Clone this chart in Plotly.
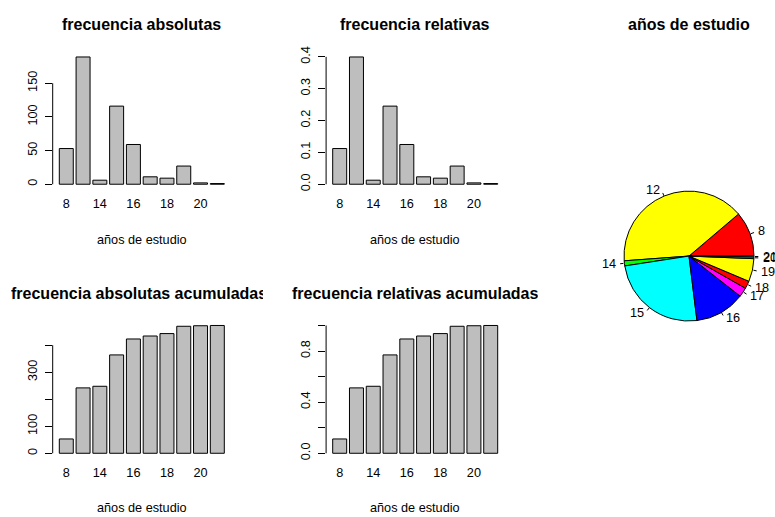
import math
import numpy as np
import plotly.graph_objects as go

# Años de estudio y sus frecuencias
anios = ["8", "12", "14", "15", "16", "17", "18", "19", "20", "21"]
frec_abs = [53, 189, 6, 116, 59, 11, 9, 27, 2, 1]
total = sum(frec_abs)
frec_rel = [f / total for f in frec_abs]
frec_abs_acum = np.cumsum(frec_abs).tolist()
frec_rel_acum = np.cumsum(frec_rel).tolist()

# Etiquetas visibles del eje x (R omite las que se solapan)
etiquetas_x = ["8", "14", "16", "18", "20"]

# rainbow(6) reciclado para el gráfico de torta
colores_torta = ["#FF0000", "#FFFF00", "#00FF00", "#00FFFF", "#0000FF", "#FF00FF",
                 "#FF0000", "#FFFF00", "#00FF00", "#00FFFF"]

W, H = 775, 517
FUENTE = "Liberation Sans, Arial, Helvetica, sans-serif"
T_TITULO, T_TEXTO = 16, 12.7


def px(x):
    return x / W


def py(y):
    return 1 - y / H


paneles = [
    dict(datos=frec_abs, titulo="frecuencia absolutas", xr=(52.7, 230.9), yr=(46.6, 186.2),
         tv=[0, 50, 100, 150], tt=["0", "50", "100", "150"], clip=None),
    dict(datos=frec_rel, titulo="frecuencia relativas", xr=(326.1, 504.3), yr=(46.6, 186.2),
         tv=[0, 0.1, 0.2, 0.3, 0.4], tt=["0.0", "0.1", "0.2", "0.3", "0.4"], clip=None),
    dict(datos=frec_abs_acum, titulo="frecuencia absolutas acumuladas", xr=(52.7, 230.9), yr=(319.3, 459.5),
         tv=[0, 100, 200, 300, 400], tt=["0", "100", "", "300", ""], clip=(10, 262)),
    dict(datos=frec_rel_acum, titulo="frecuencia relativas acumuladas", xr=(326.1, 504.3), yr=(319.3, 459.5),
         tv=[0, 0.2, 0.4, 0.6, 0.8, 1.0], tt=["0.0", "", "0.4", "", "0.8", ""], clip=(291, 537)),
]

fig = go.Figure()
anotaciones = []
formas = []

for i, p in enumerate(paneles, start=1):
    sx = "" if i == 1 else str(i)
    xa, ya = "x" + sx, "y" + sx
    fig.add_trace(go.Bar(
        x=anios, y=p["datos"], xaxis=xa, yaxis=ya,
        marker=dict(color="#BEBEBE", line=dict(color="black", width=1)),
        showlegend=False, hoverinfo="x+y",
    ))
    ymax = max(p["datos"])
    fig.layout["xaxis" + sx] = dict(
        domain=[px(p["xr"][0]), px(p["xr"][1])], anchor=ya, type="category",
        range=[-0.81, 9.81], tickmode="array", tickvals=etiquetas_x, ticktext=etiquetas_x,
        showgrid=False, zeroline=False, showline=False, ticks="",
        tickfont=dict(size=T_TEXTO, color="black", family=FUENTE), ticklabelstandoff=5,
    )
    fig.layout["yaxis" + sx] = dict(
        domain=[py(p["yr"][1]), py(p["yr"][0])], anchor=xa,
        range=[-0.04 * ymax, 1.04 * ymax], tickmode="array", tickvals=p["tv"], ticktext=p["tt"],
        showgrid=False, zeroline=False, showline=False, ticks="outside", ticklen=7,
        tickcolor="black", tickwidth=1, tickangle=-90,
        tickfont=dict(size=T_TEXTO, color="black", family=FUENTE), ticklabelstandoff=3,
    )
    # línea del eje y, del primer al último tick
    formas.append(dict(type="line", xref=xa + " domain", yref=ya, x0=0, x1=0,
                       y0=p["tv"][0], y1=p["tv"][-1], line=dict(color="black", width=1)))
    cx = (p["xr"][0] + p["xr"][1]) / 2
    ty = 19 if p["yr"][0] < 200 else 292
    titulo = dict(text="<b>" + p["titulo"] + "</b>", x=px(cx), y=py(ty),
                  xref="paper", yref="paper", xanchor="center", yanchor="middle",
                  showarrow=False, font=dict(size=T_TITULO, color="black", family=FUENTE))
    if p["clip"] is not None:
        # el título se recorta en el borde derecho de su celda
        izq, der = p["clip"]
        titulo.update(x=px(izq), xanchor="left", width=der - izq, align="left", borderpad=0)
    anotaciones.append(titulo)
    xt_y = 238 if p["yr"][0] < 200 else 510
    anotaciones.append(dict(text="años de estudio", x=px(cx), y=py(xt_y), xref="paper", yref="paper",
                            xanchor="center", yanchor="middle", showarrow=False,
                            font=dict(size=T_TEXTO, color="black", family=FUENTE)))

# Gráfico de torta: empieza a las 3 en punto y gira en sentido antihorario
pcx, pcy, pr = 689.0, 254.0, 66.0
fig.add_trace(go.Pie(
    labels=anios, values=frec_abs, sort=False, direction="counterclockwise",
    rotation=90 - 360 * frec_abs[0] / total,
    marker=dict(colors=colores_torta, line=dict(color="black", width=1)),
    textinfo="none", showlegend=False, hoverinfo="label+value",
    domain=dict(x=[px(pcx - pr), px(pcx + pr)], y=[py(pcy + pr), py(pcy - pr)]),
))

anotaciones.append(dict(text="<b>años de estudio</b>", x=px(pcx), y=py(19), xref="paper", yref="paper",
                        xanchor="center", yanchor="middle", showarrow=False,
                        font=dict(size=T_TITULO, color="black", family=FUENTE)))

acum = 0.0
for etiqueta, f in zip(anios, frec_abs):
    medio = 2 * math.pi * (acum + f / 2) / total
    acum += f
    c, s = math.cos(medio), math.sin(medio)
    formas.append(dict(type="line", xref="paper", yref="paper",
                       x0=px(pcx + pr * c), y0=py(pcy - pr * s),
                       x1=px(pcx + 1.05 * pr * c), y1=py(pcy - 1.05 * pr * s),
                       line=dict(color="black", width=1)))
    anotaciones.append(dict(text=etiqueta, x=px(pcx + 1.1 * pr * c), y=py(pcy - 1.1 * pr * s),
                            xref="paper", yref="paper", xanchor="left" if c >= 0 else "right",
                            yanchor="middle", showarrow=False, borderpad=0,
                            font=dict(size=T_TEXTO, color="black", family=FUENTE)))

fig.update_layout(
    width=W, height=H, margin=dict(l=0, r=0, t=0, b=0),
    paper_bgcolor="white", plot_bgcolor="white", bargap=1 / 6,
    annotations=anotaciones, shapes=formas,
    font=dict(family=FUENTE, color="black"),
)

fig.write_html("out.html")
